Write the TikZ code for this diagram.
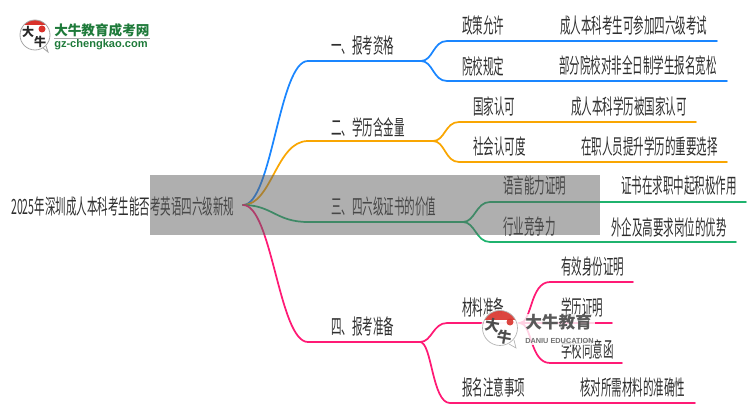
\documentclass[tikz,border=0pt]{standalone}
\usepackage{fontspec}
\newfontfamily\cjk[FakeStretch=0.5]{Noto Sans CJK SC}
\newfontfamily\cjkb{Noto Sans CJK SC}
\newfontfamily\latb{Liberation Sans}
\definecolor{cblue}{HTML}{1A86FF}
\definecolor{corange}{HTML}{F9A602}
\definecolor{cgreen}{HTML}{1FB36E}
\definecolor{cpink}{HTML}{FF1A75}
\definecolor{lgreen}{HTML}{1E7A3A}
\definecolor{lred}{HTML}{D9322B}
\definecolor{veil}{HTML}{606060}
\tikzset{
  lab/.style={inner sep=0pt,anchor=west,text=black!82,font=\cjk\fontsize{15.75}{17}\selectfont},
  wire/.style={line width=1.3pt,line cap=round,line join=round},
  blueline/.style={wire,cblue},
  orangeline/.style={wire,corange},
  greenline/.style={wire,cgreen},
  pinkline/.style={wire,cpink},
  logochar/.style={inner sep=0pt,text=black!85,font=\cjkb\bfseries\fontsize{11}{12}\selectfont},
  smallchar/.style={inner sep=0pt,text=black!85,font=\cjkb\bfseries\fontsize{9}{10}\selectfont},
}
\newcommand{\forkto}[4]{\draw[#1] (#2) .. controls ($(#2)+(12,0)$) and ($(#3)+(-14,0)$) .. (#3) -- (#4);}
\usetikzlibrary{calc}
\begin{document}
\begin{tikzpicture}[x=0.75pt,y=-0.75pt]
\useasboundingbox (0,0) rectangle (750,410);
% coordinates
\coordinate (r) at (243,205);
\coordinate (b0) at (308,61); \coordinate (bf) at (421,61);
\coordinate (b1) at (447,41); \coordinate (b1e) at (717,41);
\coordinate (b2) at (447,81); \coordinate (b2e) at (727,81);
\coordinate (o0) at (308,141); \coordinate (of) at (433,141);
\coordinate (o1) at (459,122); \coordinate (o1e) at (696,122);
\coordinate (o2) at (459,162); \coordinate (o2e) at (727,162);
\coordinate (g0) at (308,222); \coordinate (gf) at (463,222);
\coordinate (g1) at (490,202); \coordinate (g1e) at (746,202);
\coordinate (g2) at (490,242); \coordinate (g2e) at (736,242);
\coordinate (p0) at (308,342); \coordinate (pf) at (420,342);
\coordinate (p1) at (447,323); \coordinate (p1f) at (520,323);
\coordinate (p2) at (450,403); \coordinate (p2e) at (695,403);
\coordinate (q1) at (550,282); \coordinate (q1e) at (633,282);
\coordinate (q2e) at (612,323);
\coordinate (q3) at (550,363); \coordinate (q3e) at (622,363);
% main branches
\draw[blueline] (r) .. controls (272,205) and (279,61) .. (b0) -- (bf);
\draw[orangeline] (r) .. controls (272,205) and (276,141) .. (o0) -- (of);
\draw[greenline] (r) .. controls (272,205) and (276,222) .. (g0) -- (gf);
\draw[pinkline] (r) .. controls (272,205) and (279,342) .. (p0) -- (pf);
% forks
\forkto{blueline}{bf}{b1}{b1e}
\forkto{blueline}{bf}{b2}{b2e}
\forkto{orangeline}{of}{o1}{o1e}
\forkto{orangeline}{of}{o2}{o2e}
\forkto{greenline}{gf}{g1}{g1e}
\forkto{greenline}{gf}{g2}{g2e}
\forkto{pinkline}{pf}{p1}{p1f}
\draw[pinkline] (pf) .. controls (432,342) and (432,403) .. (p2) -- (p2e);
\draw[pinkline] (p1f) .. controls (532,323) and (530,282) .. (q1) -- (q1e);
\draw[pinkline] (p1f) -- (q2e);
\draw[pinkline] (p1f) .. controls (532,323) and (530,363) .. (q3) -- (q3e);
% texts
\node[lab] (root) at (11,207) {2025年深圳成人本科考生能否考英语四六级新规};
\node[lab] (a1) at (331,46) {一、报考资格};
\node[lab] (a2) at (331,127) {二、学历含金量};
\node[lab] (a3) at (331,207) {三、四六级证书的价值};
\node[lab] (a4) at (331,327) {四、报考准备};
\node[lab] (t1) at (462,25) {政策允许};
\node[lab] (d1) at (560,26) {成人本科考生可参加四六级考试};
\node[lab] (t2) at (462,66) {院校规定};
\node[lab] (d2) at (559,66) {部分院校对非全日制学生报名宽松};
\node[lab] (t3) at (473,106) {国家认可};
\node[lab] (d3) at (571,106) {成人本科学历被国家认可};
\node[lab] (t4) at (473,146) {社会认可度};
\node[lab] (d4) at (581,146) {在职人员提升学历的重要选择};
\node[lab] (t5) at (503,186) {语言能力证明};
\node[lab] (d5) at (621,186) {证书在求职中起积极作用};
\node[lab] (t6) at (503,227) {行业竞争力};
\node[lab] (d6) at (611,227) {外企及高要求岗位的优势};
\node[lab] (t7) at (462,307) {材料准备};
\node[lab] (s1) at (561,267) {有效身份证明};
\node[lab] (s2) at (561,307) {学历证明};
\node[lab] (s3) at (561,349) {学校同意函};
\node[lab] (t8) at (462,387) {报名注意事项};
\node[lab] (d8) at (580,387) {核对所需材料的准确性};
% gray overlay
\fill[veil,opacity=0.5] (150,175) rectangle (600,235);
% watermark
\fill[white,opacity=0.8] (484,314) rectangle (595,345);
\fill[white,opacity=0.8] (500,328) circle (19);
\begin{scope}
\clip (500,328) circle (17.5);
\fill[lred,opacity=0.9] (482,308) rectangle (520,320);
\end{scope}
\draw[black!30,line width=0.5pt] (500,328) circle (17.5);
\draw[black!30,line width=0.5pt] (509,344) -- (516,348) -- (514,340);
\fill[lred,opacity=0.9] (510,322) circle (3.5);
\node[logochar,rotate=-10,text=black!70] (wm1) at (493,325) {大};
\node[logochar,rotate=-10,text=black!70] (wm2) at (505,337) {牛};
\node[inner sep=0pt,anchor=west,text=black!65,font=\cjkb\bfseries\fontsize{12.5}{14}\selectfont] (wm3) at (525,322) {大牛教育};
\node[inner sep=0pt,anchor=west,text=black!55,font=\latb\bfseries\fontsize{5.5}{6}\selectfont] (wm4) at (525,341) {DANIU EDUCATION};
% top-left logo
\fill[white] (35,35) circle (15);
\begin{scope}
\clip (35,35) circle (15);
\fill[lred] (18,18) rectangle (52,25);
\end{scope}
\draw[black!35,line width=0.6pt] (35,35) circle (15);
\draw[black!35,line width=0.6pt] (43,48) -- (48,52) -- (46,46);
\fill[lred] (42,29) circle (3.5);
\node[smallchar] (lg1) at (28,32) {大};
\node[smallchar] (lg2) at (40,42) {牛};
\node[inner sep=0pt,anchor=west,text=lgreen,font=\cjkb\bfseries\fontsize{10.2}{12}\selectfont] (lg3) at (54,30) {大牛教育成考网};
\draw[black!35,line width=0.8pt] (54,38.5) -- (150,38.5);
\node[inner sep=0pt,anchor=west,text=lgreen,font=\latb\bfseries\fontsize{8.3}{10}\selectfont] (lg4) at (54,45) {gz-chengkao.com};
\end{tikzpicture}
\end{document}
